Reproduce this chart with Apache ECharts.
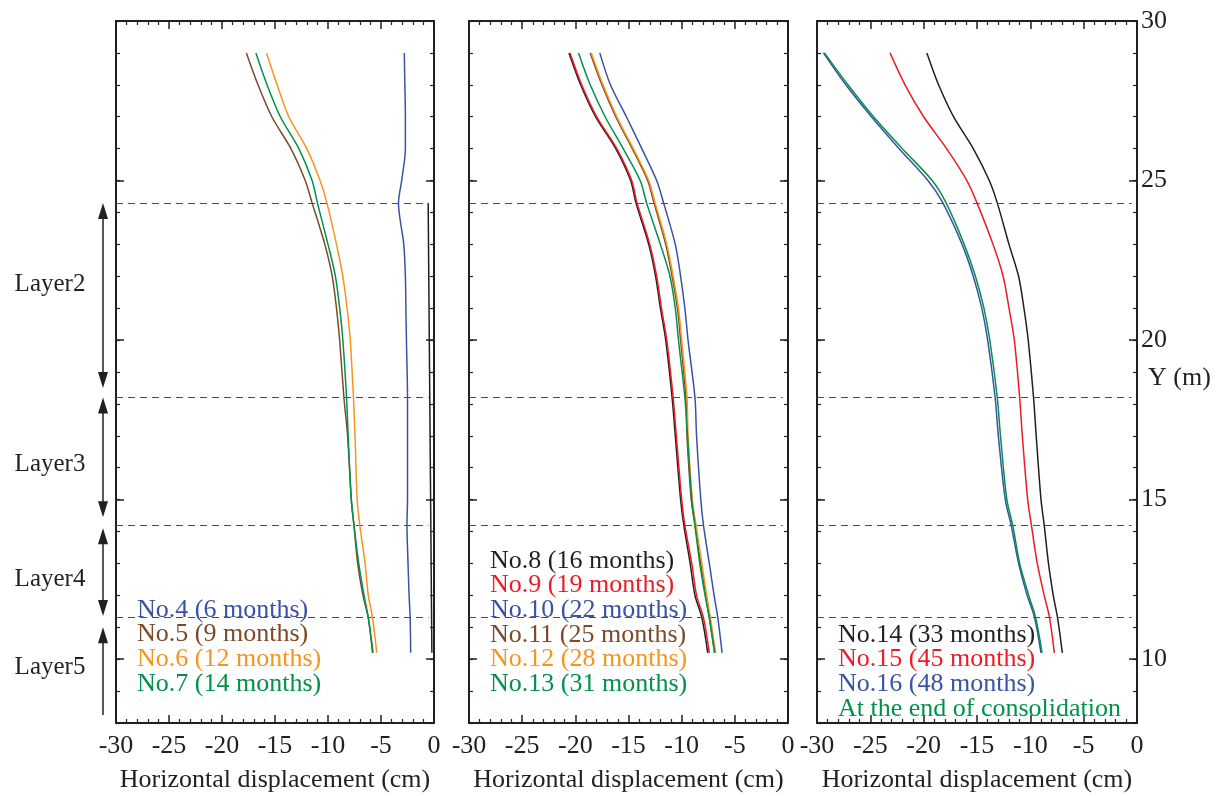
<!DOCTYPE html>
<html><head><meta charset="utf-8">
<script src="https://cdn.jsdelivr.net/npm/echarts@6/dist/echarts.min.js"></script>
<style>html,body{margin:0;padding:0;background:#fff}#c{width:1220px;height:796px}</style>
</head><body><div id="c"></div>
<script>
// ---------- data ----------
const depths = [29, 28, 27, 26, 25, 24.3, 23, 22, 21, 20, 18.2, 17, 15, 14.2, 13, 12, 11.3, 10.2];
const no3Depths = [24.3, 10.2];
const no3 = [-0.55, -0.2];
const no4 = [-2.8, -2.75, -2.7, -2.7, -3.05, -3.35, -2.85, -2.7, -2.65, -2.6, -2.5, -2.5, -2.5, -2.55, -2.45, -2.35, -2.25, -2.2];
const no5 = [-17.7, -16.6, -15.3, -13.5, -12.15, -11.5, -10.3, -9.6, -9.2, -8.9, -8.5, -8.15, -7.8, -7.55, -7.2, -6.7, -6.2, -5.8];
const no6 = [-15.8, -14.8, -13.7, -12.0, -10.75, -10.1, -9.2, -8.6, -8.2, -7.9, -7.6, -7.45, -7.25, -7.0, -6.5, -6.2, -5.8, -5.4];
const no7 = [-16.8, -15.75, -14.5, -12.75, -11.5, -11.0, -10.0, -9.3, -8.9, -8.6, -8.25, -8.1, -7.8, -7.55, -7.1, -6.6, -6.2, -5.75];
const no8 = [-20.6, -19.5, -18.1, -16.2, -14.8, -14.3, -13.1, -12.45, -12.0, -11.5, -10.9, -10.6, -10.1, -9.8, -9.2, -8.75, -8.1, -7.55];
const no9 = [-20.5, -19.4, -18.0, -16.1, -14.7, -14.2, -13.0, -12.35, -11.9, -11.4, -10.8, -10.5, -10.0, -9.7, -9.05, -8.6, -7.95, -7.4];
const no10 = [-17.7, -16.7, -15.2, -13.75, -12.35, -11.7, -10.6, -10.1, -9.7, -9.4, -8.75, -8.6, -8.2, -7.95, -7.4, -6.95, -6.6, -6.2];
const no11 = [-18.6, -17.5, -16.2, -14.65, -13.2, -12.6, -11.5, -10.9, -10.4, -10.1, -9.6, -9.5, -9.1, -8.75, -8.2, -7.75, -7.4, -6.9];
const no12 = [-18.5, -17.4, -16.1, -14.55, -13.1, -12.5, -11.4, -10.8, -10.3, -10.0, -9.5, -9.4, -9.0, -8.65, -8.1, -7.65, -7.3, -6.8];
const no13 = [-19.7, -18.6, -17.2, -15.5, -13.9, -13.3, -12.0, -11.1, -10.6, -10.3, -9.7, -9.45, -9.05, -8.75, -8.3, -7.8, -7.4, -6.9];
const no14 = [-19.7, -18.6, -17.2, -15.35, -13.85, -13.1, -12.0, -11.1, -10.6, -10.2, -9.7, -9.45, -9.0, -8.7, -8.3, -7.85, -7.45, -7.0];
const no15 = [-23.15, -21.75, -20.0, -17.85, -15.95, -15.0, -13.5, -12.55, -12.0, -11.5, -11.0, -10.75, -10.25, -9.9, -9.35, -8.7, -8.2, -7.75];
const no16 = [-29.4, -27.3, -24.9, -22.3, -19.6, -18.2, -16.4, -15.35, -14.55, -14.0, -13.3, -13.0, -12.35, -11.8, -11.1, -10.3, -9.6, -9.0];
const endCons = [-29.3, -27.1, -24.7, -22.0, -19.2, -17.9, -16.2, -15.15, -14.35, -13.8, -13.1, -12.8, -12.2, -11.65, -11.0, -10.15, -9.5, -8.9];

const xTicks = [-30, -25, -20, -15, -10, -5, 0];
const yRange = [8, 30];
const yMajorTicks = [10, 15, 20, 25, 30];
const layerBounds = [24.3, 18.2, 14.2, 11.3];
const layerNames = ['Layer2', 'Layer3', 'Layer4', 'Layer5'];
const layerLabelY = [21.75, 16.1, 12.5, 9.75];
const arrowTop = [24.3, 18.2, 14.1, 11.0];
const arrowBottom = [18.5, 14.45, 11.35, 8.25];

// ---------- style ----------
const FONT = "'Liberation Serif','Times New Roman',serif";
const INK = '#231f20';
const BLUE = '#3953a4', BROWN = '#7a4a2a', ORANGE = '#f7941d', GREEN = '#00924a', RED = '#ed1c24', BLACK = '#231f20';

const panels = [
  { left: 116, width: 318, legendLeft: 132, legendTop: 597, curves: [
    { name: 'No.3', color: BLACK, x: no3, y: no3Depths },
    { name: 'No.4 (6 months)', color: BLUE, x: no4 },
    { name: 'No.5 (9 months)', color: BROWN, x: no5 },
    { name: 'No.6 (12 months)', color: ORANGE, x: no6 },
    { name: 'No.7 (14 months)', color: GREEN, x: no7 } ],
    legendOrder: ['No.4 (6 months)', 'No.5 (9 months)', 'No.6 (12 months)', 'No.7 (14 months)'] },
  { left: 469, width: 319, legendLeft: 485, legendTop: 548, curves: [
    { name: 'No.8 (16 months)', color: BLACK, x: no8 },
    { name: 'No.9 (19 months)', color: RED, x: no9 },
    { name: 'No.11 (25 months)', color: BROWN, x: no11 },
    { name: 'No.12 (28 months)', color: ORANGE, x: no12 },
    { name: 'No.13 (31 months)', color: GREEN, x: no13 },
    { name: 'No.10 (22 months)', color: BLUE, x: no10 } ],
    legendOrder: ['No.8 (16 months)', 'No.9 (19 months)', 'No.10 (22 months)', 'No.11 (25 months)', 'No.12 (28 months)', 'No.13 (31 months)'] },
  { left: 817, width: 320, legendLeft: 833, legendTop: 622, curves: [
    { name: 'No.14 (33 months)', color: BLACK, x: no14 },
    { name: 'No.15 (45 months)', color: RED, x: no15 },
    { name: 'No.16 (48 months)', color: BLUE, x: no16 },
    { name: 'At the end of consolidation', color: GREEN, x: endCons } ],
    legendOrder: ['No.14 (33 months)', 'No.15 (45 months)', 'No.16 (48 months)', 'At the end of consolidation'] }
];

const TOP = 21, HEIGHT = 702;
const grids = [], xAxes = [], yAxes = [], series = [], legends = [];
const textBase = { fontSize: 26, fontFamily: FONT, color: INK };

panels.forEach((p, g) => {
  grids.push({ left: p.left, top: TOP, width: p.width, height: HEIGHT, outerBoundsMode: 'none', containLabel: false });
  ['bottom', 'top'].forEach(pos => xAxes.push({
    gridIndex: g, type: 'value', position: pos,
    min: xTicks[0], max: xTicks[xTicks.length - 1], interval: xTicks[1] - xTicks[0],
    axisLine: { show: true, onZero: false, lineStyle: { color: INK, width: 2 } },
    axisTick: { show: true, inside: true, length: 8, lineStyle: { color: INK, width: 1.5 } },
    minorTick: { show: true, splitNumber: 5, length: 4, lineStyle: { color: INK, width: 1.2 } },
    axisLabel: Object.assign({ show: pos === 'bottom', margin: 10 }, textBase),
    splitLine: { show: false }, minorSplitLine: { show: false },
    name: pos === 'bottom' ? 'Horizontal displacement (cm)' : '',
    nameLocation: 'middle', nameGap: 44, nameTextStyle: textBase
  }));
  ['left', 'right'].forEach(pos => {
    yAxes.push({
      gridIndex: g, type: 'value', position: pos, min: yRange[0], max: yRange[1], interval: 1,
      axisLine: { show: true, onZero: false, lineStyle: { color: INK, width: 2 } },
      axisTick: { show: true, inside: true, length: 4, lineStyle: { color: INK, width: 1.2 } },
      axisLabel: { show: false }, splitLine: { show: false }
    });
    yAxes.push({
      gridIndex: g, type: 'value', position: pos, min: yRange[0], max: yRange[1],
      axisLine: { show: false, onZero: false },
      axisTick: { show: true, inside: true, length: 8, customValues: yMajorTicks, lineStyle: { color: INK, width: 1.5 } },
      axisLabel: Object.assign({ show: g === 2 && pos === 'right', customValues: yMajorTicks, margin: 4, padding: [5, 0, 0, 0] }, textBase),
      splitLine: { show: false }
    });
  });

  p.curves.forEach((c, ci) => {
    const ys = c.y || depths;
    const s = {
      type: 'line', name: c.name, xAxisIndex: 2 * g, yAxisIndex: 4 * g,
      data: c.x.map((v, i) => [v, ys[i]]),
      showSymbol: false, symbol: 'none', smooth: 0.3, silent: true,
      lineStyle: { color: c.color, width: 1.5 }, itemStyle: { color: c.color },
      z: 3 + ci
    };
    if (ci === 0) {
      s.markLine = {
        silent: true, symbol: 'none', label: { show: false },
        lineStyle: { type: [7, 5], color: '#4d4d4d', width: 1.2 },
        data: layerBounds.map(v => [{ coord: [xTicks[0], v] }, { coord: [-0.5, v] }])
      };
    }
    series.push(s);
  });

  legends.push({
    left: p.legendLeft, top: p.legendTop, orient: 'vertical', padding: 0, itemGap: -1.4,
    itemWidth: 0, itemHeight: 0, selectedMode: false, icon: 'rect',
    textStyle: { fontSize: 26, fontFamily: FONT, lineHeight: 24.6 },
    data: p.legendOrder.map(n => {
      const c = p.curves.find(k => k.name === n);
      return { name: n, textStyle: { color: c.color }, itemStyle: { opacity: 0 }, lineStyle: { opacity: 0 } };
    })
  });
});

// annotation grid on the left (layer arrows and labels)
grids.push({ left: 0, top: TOP, width: 116, height: HEIGHT, outerBoundsMode: 'none', containLabel: false });
xAxes.push({ gridIndex: 3, type: 'value', min: 0, max: 116, show: false });
yAxes.push({ gridIndex: 3, type: 'value', min: yRange[0], max: yRange[1], show: false });

const HEAD = [10, 16];                                   // arrowhead size in px
const headHalf = (HEAD[1] / 2) * (yRange[1] - yRange[0]) / HEIGHT; // half head length in data units
const ARROW_X = 103;

series.push({
  type: 'lines', coordinateSystem: 'cartesian2d', xAxisIndex: 6, yAxisIndex: 12, silent: true,
  symbol: ['triangle', 'triangle'], symbolSize: [HEAD, HEAD],
  lineStyle: { color: INK, width: 1.5, opacity: 1, curveness: 0 },
  data: arrowTop.slice(0, 3).map((t, i) => ({ coords: [[ARROW_X, t - headHalf], [ARROW_X, arrowBottom[i] + headHalf]] }))
});
series.push({
  type: 'lines', coordinateSystem: 'cartesian2d', xAxisIndex: 6, yAxisIndex: 12, silent: true,
  symbol: ['none', 'triangle'], symbolSize: [HEAD, HEAD],
  lineStyle: { color: INK, width: 1.5, opacity: 1, curveness: 0 },
  data: [{ coords: [[ARROW_X, arrowBottom[3]], [ARROW_X, arrowTop[3] - headHalf]] }]
});
series.push({
  type: 'scatter', xAxisIndex: 6, yAxisIndex: 12, silent: true, symbolSize: 0,
  itemStyle: { color: INK, opacity: 1 },
  data: layerNames.map((n, i) => ({ value: [50, layerLabelY[i]], name: n })),
  label: { show: true, position: 'inside', formatter: d => d.name, fontSize: 25, fontFamily: FONT, color: INK, textBorderWidth: 0 }
});

const chart = echarts.init(document.getElementById('c'), null, { renderer: 'canvas' });
chart.setOption({
  animation: false,
  backgroundColor: '#ffffff',
  title: { text: 'Y (m)', left: 1148, top: 365, padding: 0,
    textStyle: { fontSize: 26, fontFamily: FONT, fontWeight: 'normal', color: INK } },
  grid: grids, xAxis: xAxes, yAxis: yAxes, legend: legends, series: series
});
</script></body></html>
